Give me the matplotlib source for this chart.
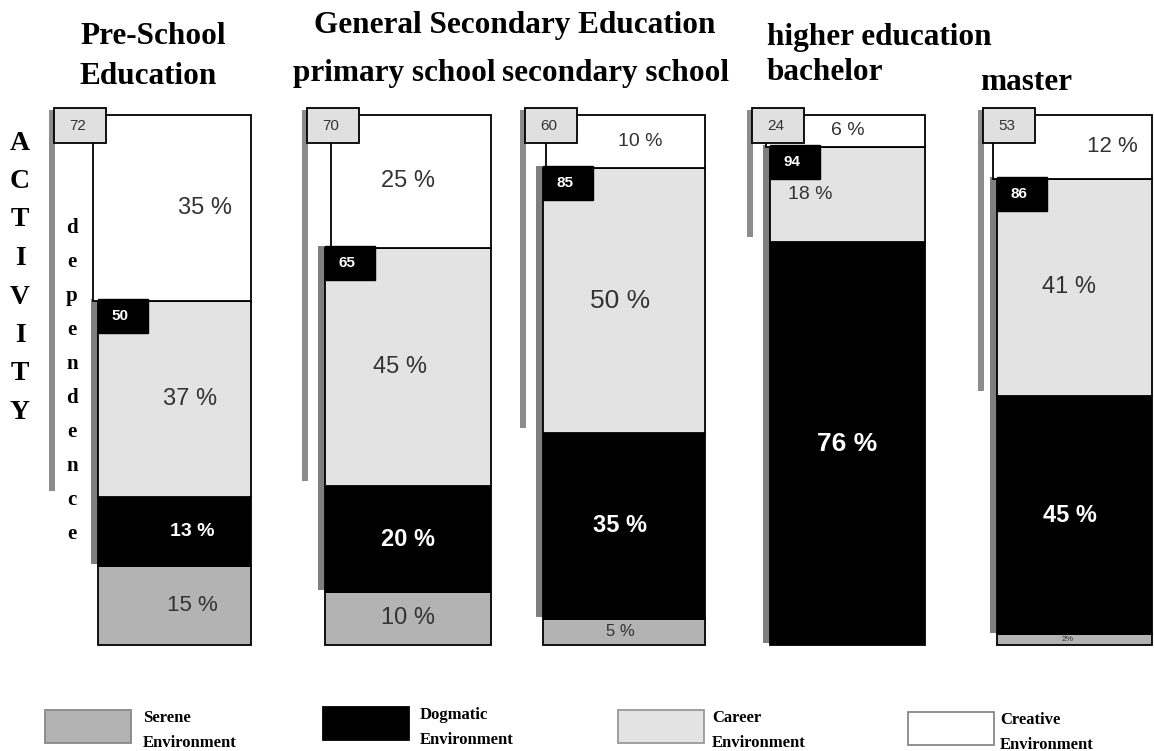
import matplotlib
matplotlib.use('Agg')
import matplotlib.pyplot as plt
from matplotlib.patches import Rectangle

# ---- data (percent of environment type per education level) ----
levels     = ['Pre-School', 'primary school', 'secondary school', 'bachelor', 'master']
serene     = [15, 10, 5, 0, 2]
dogmatic   = [13, 20, 35, 76, 45]
career     = [37, 45, 50, 18, 41]
creative   = [35, 25, 10, 6, 12]
activity   = [72, 70, 60, 24, 53]
dependence = [50, 65, 85, 94, 86]

# ---- layout (x in pixels, y in percent) ----
bar_left  = [98, 325, 543, 770, 997]
bar_right = [251, 491, 705, 925, 1152]
cre_left  = [93, 331, 546, 766, 993]
act_x     = [49, 302, 520, 747, 978]

K, Y0 = 5.3, 645          # px per percent, pixel row of 0 %
def py(px):
    return (Y0 - px) / K

fig = plt.figure(figsize=(11.54, 7.51), dpi=100, facecolor='white')
ax = fig.add_axes([0, 0, 1, 1])
ax.set_xlim(0, 1154)
ax.set_ylim(py(751), py(0))
ax.axis('off')

serif = 'Liberation Serif'
sans = 'Liberation Sans'

# activity strips (tall grey bars on the left)
act_top = 101
ax.bar(act_x, activity, width=6, bottom=[act_top - a for a in activity],
       align='edge', color='#8c8c8c', zorder=1)

# dependence strips (start at top of career segment)
dep_top = [100 - c + 0.3 for c in creative]
ax.bar([b - 7 for b in bar_left], dependence, width=7,
       bottom=[t - d for t, d in zip(dep_top, dependence)],
       align='edge', color='#7f7f7f', zorder=2)

# stacked segments
seg_vals  = [serene, dogmatic, career, creative]
seg_cols  = ['#b3b3b3', '#000000', '#e3e3e3', '#ffffff']
bottoms = [0] * 5
seg_bottoms = []
for vals, col in zip(seg_vals, seg_cols):
    seg_bottoms.append(list(bottoms))
    lefts = cre_left if vals is creative else bar_left
    for i, v in enumerate(vals):
        if v == 0:
            continue
        ax.bar(lefts[i], v, width=bar_right[i] - lefts[i], bottom=bottoms[i],
               align='edge', color=col, edgecolor='black', linewidth=1.3, zorder=3)
    bottoms = [b + v for b, v in zip(bottoms, vals)]

# percentage labels
label_dx = [[18, 18, 16, 31],
            [0, 0, -8, 0],
            [-4, -4, -4, 16],
            [0, 0, -37, 0],
            [-7, -5, -5, 38]]
label_fs = [[16, 14, 17, 17],
            [17, 17, 17, 17],
            [12, 17, 19, 14],
            [0, 19, 14, 14],
            [6, 17, 17, 16]]
for s, vals in enumerate(seg_vals):
    for i, v in enumerate(vals):
        if v == 0:
            continue
        cx = (bar_left[i] + bar_right[i]) / 2 + label_dx[i][s]
        cy = seg_bottoms[s][i] + v / 2
        txt = f'{v}%' if v < 3 else f'{v} %'
        dark = vals is dogmatic
        ax.text(cx, cy, txt, ha='center', va='center', family=sans,
                fontsize=label_fs[i][s], color='white' if dark else '#333333',
                fontweight='bold' if dark else 'normal', zorder=6)

# activity value boxes
for i, a in enumerate(activity):
    x0 = act_x[i] + 5
    ax.add_patch(Rectangle((x0, py(143)), 52, py(108) - py(143),
                           facecolor='#e0e0e0', edgecolor='black', lw=1.3, zorder=5))
    ax.text(x0 + 24, (py(143) + py(108)) / 2, str(a), ha='center', va='center',
            family=sans, fontsize=11, color='#333333', zorder=6)

# dependence value boxes
for i, d in enumerate(dependence):
    top = 100 - creative[i] + 0.3
    ax.add_patch(Rectangle((bar_left[i], top - 6.4), 50, 6.4,
                           facecolor='black', edgecolor='black', zorder=5))
    ax.text(bar_left[i] + 22, top - 3.2, str(d), ha='center', va='center',
            family=sans, fontsize=11, color='white', fontweight='bold', zorder=6)

# titles
title_kw = dict(family=serif, fontweight='bold', fontsize=22.5, va='center', color='black')
ax.text(80, py(36), 'Pre-School', ha='left', **title_kw)
ax.text(80, py(77), 'Education', ha='left', **title_kw)
ax.text(515, py(25), 'General Secondary Education', ha='center', **title_kw)
ax.text(394, py(73), 'primary school', ha='center', **title_kw)
ax.text(615, py(73), 'secondary school', ha='center', **title_kw)
ax.text(767, py(38), 'higher education', ha='left', **title_kw)
ax.text(767, py(73), 'bachelor', ha='left', **title_kw)
ax.text(980, py(82), 'master', ha='left', **title_kw)

# vertical words
for j, ch in enumerate('ACTIVITY'):
    ax.text(20, py(143 + j * 38.5), ch, ha='center', va='center', family=serif,
            fontweight='bold', fontsize=20)
for j, ch in enumerate('dependence'):
    ax.text(72, py(228 + j * 34), ch, ha='center', va='center', family=serif,
            fontweight='bold', fontsize=15)

# legend
leg_names = ['Serene', 'Dogmatic', 'Career', 'Creative']
leg_box   = [(45, 710), (323, 707), (618, 710), (908, 712)]
leg_edge  = ['#888888', '#000000', '#999999', '#888888']
leg_text  = [143, 420, 712, 1000]
for name, (bx, by), col, ec, tx in zip(leg_names, leg_box, seg_cols, leg_edge, leg_text):
    ax.add_patch(Rectangle((bx, py(by + 33)), 86, 33 / K,
                           facecolor=col, edgecolor=ec, lw=1.3))
    ax.text(tx, py(by + 8), name, ha='left', va='center', family=serif,
            fontweight='bold', fontsize=12)
    ax.text(tx, py(by + 33), 'Environment', ha='left', va='center', family=serif,
            fontweight='bold', fontsize=12)

fig.savefig('out.png', dpi=100, facecolor='white')
